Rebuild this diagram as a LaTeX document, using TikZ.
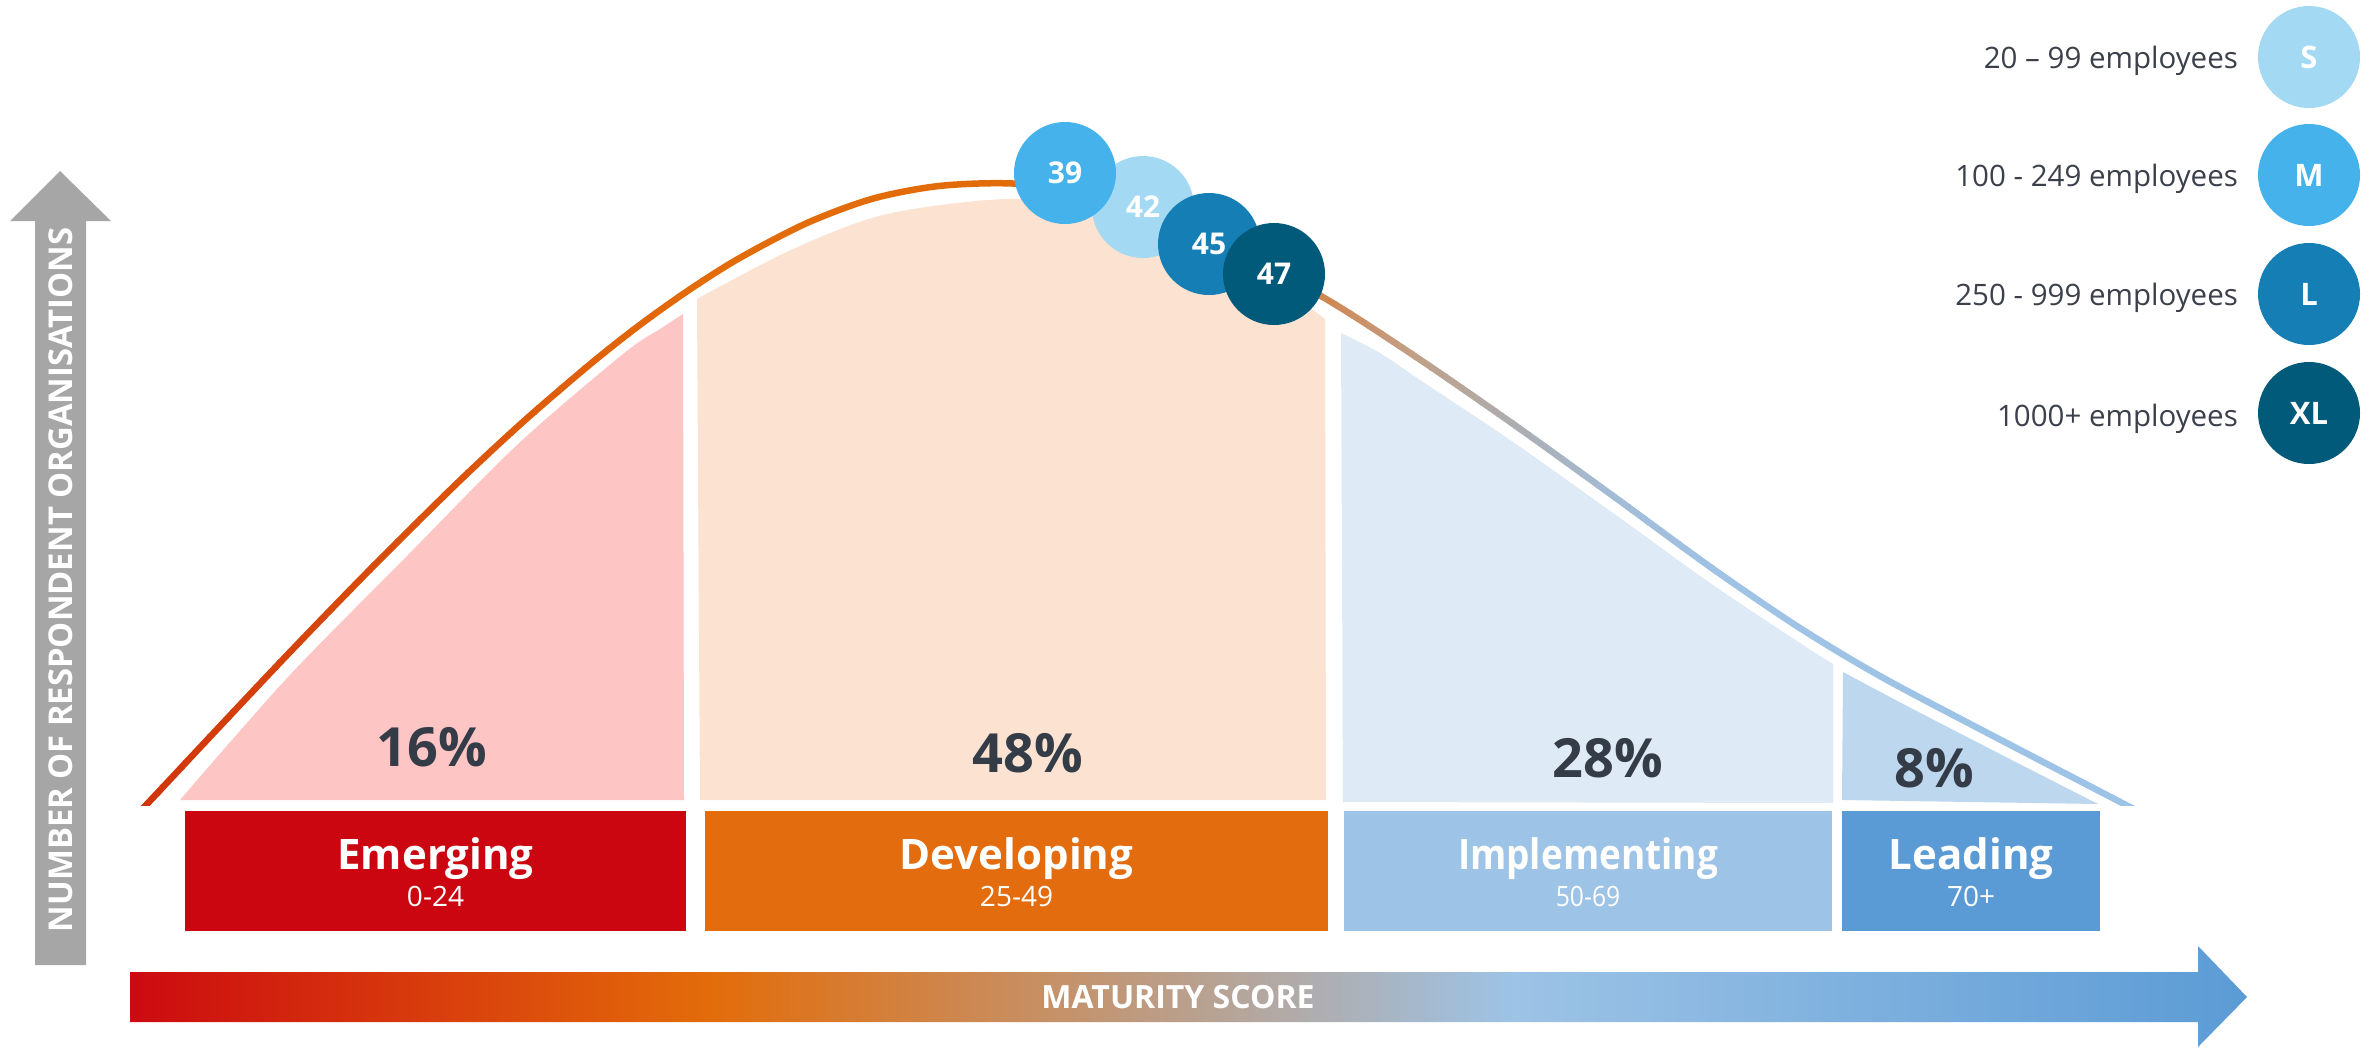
\documentclass[tikz,border=0pt]{standalone}
\usepackage{fontspec}
\setmainfont{Open Sans}
\definecolor{cEm}{HTML}{CC0611}
\definecolor{cDev}{HTML}{E36C0F}
\definecolor{cImp}{HTML}{9DC3E6}
\definecolor{cLead}{HTML}{5B9BD5}
\definecolor{fEm}{HTML}{FEC5C5}
\definecolor{fDev}{HTML}{FBE2D1}
\definecolor{fImp}{HTML}{DEEAF6}
\definecolor{fLead}{HTML}{BDD7EE}
\definecolor{cS}{HTML}{A3D9F3}
\definecolor{cM}{HTML}{45B2EB}
\definecolor{cL}{HTML}{147EB5}
\definecolor{cXL}{HTML}{025A7B}
\definecolor{txtdark}{HTML}{343C48}
\definecolor{legdark}{HTML}{3B404B}
\definecolor{axgray}{HTML}{A6A6A6}
\definecolor{k0}{HTML}{D0340B}
\definecolor{k1}{HTML}{E36C0A}
\definecolor{k2}{HTML}{D0864F}
\definecolor{k3}{HTML}{C1A087}
\definecolor{k4}{HTML}{ADADB1}
\definecolor{k5}{HTML}{A3BCD6}
\definecolor{k6}{HTML}{9FC3E5}
\definecolor{k7}{HTML}{9DC3E6}
\definecolor{h0}{HTML}{CC0A10}
\definecolor{h1}{HTML}{E36C0A}
\definecolor{h2}{HTML}{9DC3E6}
\definecolor{h3}{HTML}{5B9BD5}
\pgfdeclarehorizontalshading{matgrad}{100bp}{color(0bp)=(h0); color(25bp)=(h0); color(38.7bp)=(h1); color(57.7bp)=(h2); color(75bp)=(h3); color(100bp)=(h3)}
\begin{document}
\begin{tikzpicture}[x=1pt,y=-1pt,
  bubble/.style={circle, minimum size=102pt, inner sep=0pt, text=white, font=\bfseries\fontsize{30}{30}\selectfont},
  legcirc/.style={circle, minimum size=102pt, inner sep=0pt, text=white, font=\bfseries\fontsize{31}{31}\selectfont},
  legtxt/.style={anchor=base east, inner sep=0pt, text=legdark, font=\fontsize{29.5}{30}\selectfont},
  pct/.style={anchor=base, inner sep=0pt, text=txtdark, font=\bfseries\fontsize{54}{54}\selectfont},
  stagetitle/.style={anchor=base, inner sep=0pt, text=white, font=\bfseries\fontsize{42}{42}\selectfont},
  stagesub/.style={anchor=base, inner sep=0pt, text=white, font=\fontsize{28}{28}\selectfont}]
\useasboundingbox (0,0) rectangle (2371,1047);
\fill[white] (0,0) rectangle (2371,1047);

% area fills
\fill[fEm] (180,800) -- plot[smooth] coordinates {(180,800) (288,677) (407,556) (517,445) (623,354) (660,329) (683,314)} -- (684,800) -- cycle;
\fill[fDev] (700,800) -- plot[smooth] coordinates {(697,299) (793,249) (887,214) (1007,199) (1100,208) (1200,246) (1290,295) (1325,319)} -- (1326,800) -- cycle;
\fill[fImp] (1343,802) -- plot[smooth] coordinates {(1341,333) (1380,353) (1420,380) (1513,442) (1613,513) (1713,585) (1800,643) (1833,664)} -- (1833,803) -- cycle;
\fill[fLead] (1842,800) -- plot[smooth] coordinates {(1843,672) (1907,706) (2000,754) (2098,804)} -- cycle;

% bell curve with colour gradient along x
\path[save path=\bellcurve] plot[smooth] coordinates {(136,815) (148,803) (207,740) (290,652) (373,566.5) (457,483.3) (523,421.9) (590,364.3) (640,324.8) (690,289.3) (740,257.8) (807,223) (873,198.6) (940,185.9) (1015,183.6) (1100,193.8) (1200,231.8) (1320,295.4) (1413,354.9) (1513,423.9) (1613,495.9) (1713,568.9) (1800,628.1) (1880,676.1) (1980,729.1) (2121,802.4) (2136,810.2)};
\foreach \xa/\xb/\ca/\cb/\n in {136/700/k0/k1/24, 700/1180/k1/k1/1, 1180/1320/k1/k2/8, 1320/1413/k2/k3/6, 1413/1513/k3/k4/6, 1513/1613/k4/k5/6, 1613/1713/k5/k6/6, 1713/2145/k6/k7/2}{
  \foreach \j in {1,...,\n}{
    \pgfmathsetmacro\stripL{\xa+(\j-1)*(\xb-\xa)/\n}
    \pgfmathsetmacro\stripR{\xa+\j*(\xb-\xa)/\n+1.5}
    \pgfmathsetmacro\mixp{100*(\j-0.5)/\n}
    \begin{scope}
      \clip (\stripL,0) rectangle (\stripR,805);
      \draw[line width=6.5pt, color=\cb!\mixp!\ca, use path=\bellcurve];
    \end{scope}
  }
}

% score bubbles
\node[bubble, fill=cS] (b42) at (1143,207) {42};
\node[bubble, fill=cM] (b39) at (1065,173) {39};
\node[bubble, fill=cL] (b45) at (1209,244) {45};
\node[bubble, fill=cXL] (b47) at (1274,274) {47};

% percentages
\node[pct] (p16) at (432,766) {16\%};
\node[pct] (p48) at (1028,772) {48\%};
\node[pct] (p28) at (1608,777) {28\%};
\node[pct] (p8) at (1934,787) {8\%};

% stage boxes
\fill[cEm] (185,811) rectangle (686,931);
\fill[cDev] (705,811) rectangle (1328,931);
\fill[cImp] (1344,811) rectangle (1832,931);
\fill[cLead] (1842,811) rectangle (2100,931);
\node[stagetitle] (tEm) at (435.5,869) {Emerging};
\node[stagesub] (sEm) at (435.5,906) {0-24};
\node[stagetitle] (tDev) at (1016.5,869) {Developing};
\node[stagesub] (sDev) at (1016.5,906) {25-49};
\node[stagetitle] (tImp) at (1588,869) {\scalebox{0.88}[1]{Implementing}};
\node[stagesub] (sImp) at (1588,906) {\scalebox{0.88}[1]{50-69}};
\node[stagetitle] (tLead) at (1971,869) {Leading};
\node[stagesub] (sLead) at (1971,906) {70+};

% vertical axis arrow
\fill[axgray] (35,965) -- (35,221) -- (10,221) -- (60,171) -- (111,221) -- (86,221) -- (86,965) -- cycle;
\node[rotate=90, inner sep=0pt, text=white, font=\bfseries\fontsize{32.8}{33}\selectfont] (yaxis) at (60.5,580) {NUMBER OF RESPONDENT ORGANISATIONS};

% horizontal axis arrow
\shade[shading=matgrad] (130,972) -- (2198,972) -- (2198,946) -- (2247,997) -- (2198,1047) -- (2198,1022) -- (130,1022) -- cycle;
\node[inner sep=0pt, text=white, font=\bfseries\fontsize{32}{32}\selectfont] (xaxis) at (1178,997) {MATURITY SCORE};

% legend
\node[legcirc, fill=cS] (legS) at (2309,57) {S};
\node[legcirc, fill=cM] (legM) at (2309,175) {M};
\node[legcirc, fill=cL] (legL) at (2309,294) {L};
\node[legcirc, fill=cXL] (legXL) at (2309,413) {XL};
\node[legtxt] (legStxt) at (2238,68) {20 – 99 employees};
\node[legtxt] (legMtxt) at (2238,186) {100 - 249 employees};
\node[legtxt] (legLtxt) at (2238,305) {250 - 999 employees};
\node[legtxt] (legXLtxt) at (2238,426) {1000+ employees};
\end{tikzpicture}
\end{document}
